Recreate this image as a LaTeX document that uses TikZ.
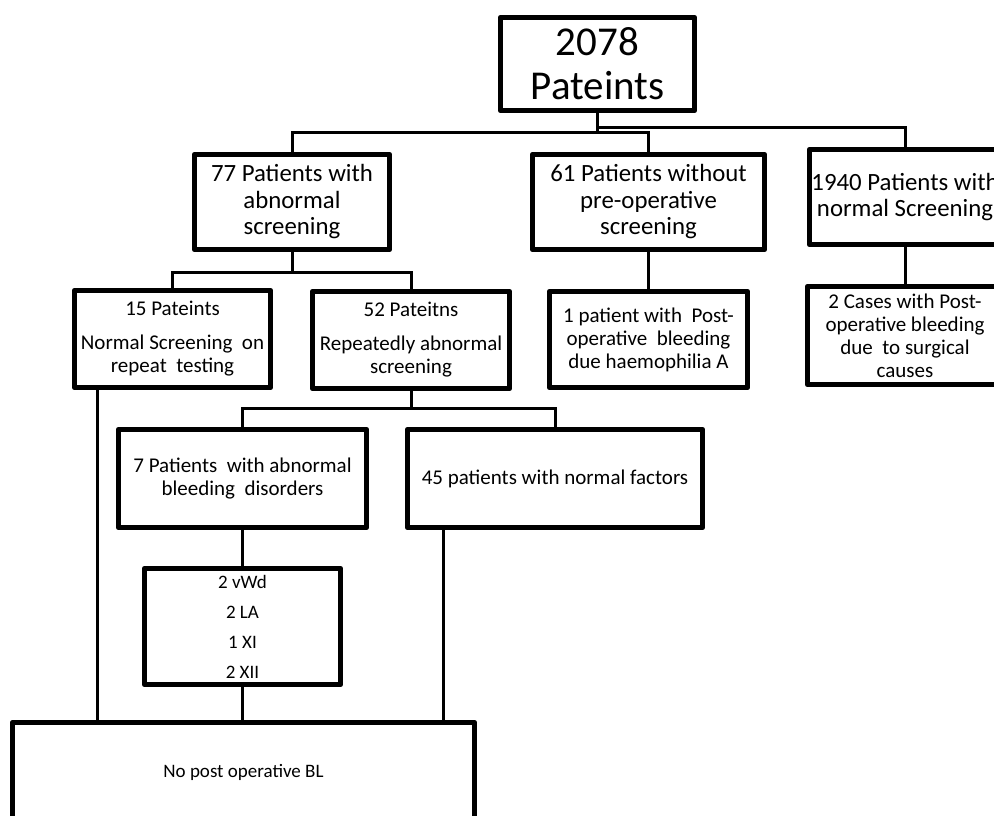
\documentclass[tikz,border=0pt]{standalone}
\usepackage{fontspec}
\setmainfont{Carlito}
\newcommand{\myL}{\fontsize{41}{44}\selectfont}
\newcommand{\myM}{\fontsize{24.8}{26.5}\selectfont}
\newcommand{\myS}{\fontsize{21}{23}\selectfont}
\newcommand{\myT}{\fontsize{19}{30}\selectfont}
\begin{document}
\begin{tikzpicture}[x=1pt,y=-1pt,
  box/.style={draw, line width=5.5pt, rectangle, line join=round, inner sep=0pt, align=center},
  conn/.style={line width=3pt}]
\useasboundingbox (0,0) rectangle (994,816);
\fill[white] (0,0) rectangle (994,816);
\clip (0,0) rectangle (994,816);
% boxes
\node[box, font=\myL, minimum width=194, minimum height=93] (top) at (597.5,64) {2078\\Pateints};
\node[box, font=\myM, minimum width=195, minimum height=95] (n77) at (292,202) {77 Patients with\\abnormal\\screening};
\node[box, font=\myM, minimum width=232, minimum height=95] (n61) at (648.5,202) {61 Patients without\\pre-operative\\screening};
\node[box, font=\myM, minimum width=191, minimum height=95] (n1940) at (905,197) {1940 Patients with\\normal Screening};
\node[box, font=\myS, minimum width=196, minimum height=97] (n15) at (172.5,339) {15 Pateints\\[11pt]Normal Screening~ on\\repeat~ testing};
\node[box, font=\myS, minimum width=197, minimum height=97] (n52) at (411,340) {52 Pateitns\\[11pt]Repeatedly abnormal\\screening};
\node[box, font=\myS, minimum width=198, minimum height=96] (n1p) at (648.5,339.5) {1 patient with~ Post-\\operative~ bleeding\\due haemophilia A};
\node[box, font=\myS, minimum width=195, minimum height=98] (n2c) at (905,335.5) {2 Cases with Post-\\operative bleeding\\due~ to surgical\\causes};
\node[box, font=\myS, minimum width=248, minimum height=98] (n7) at (242.5,478.5) {7 Patients~ with abnormal\\bleeding~ disorders};
\node[box, font=\myS, minimum width=295, minimum height=98] (n45) at (555,478.5) {45 patients with normal factors};
\node[box, font=\myT, minimum width=196, minimum height=116] (nf) at (242.5,626.5) {2 vWd\\2 LA\\1 XI\\2 XII};
\node[box, font=\myT, minimum width=462, minimum height=99] (nb) at (243.5,772) {No post operative BL};
% junctions
\coordinate (ja) at (597.5,132);
\coordinate (jb) at (597.5,127);
\coordinate (jc) at (292,272);
\coordinate (jd) at (411,408);
\coordinate (e15) at (97,0);
\coordinate (e45) at (443,0);
% connectors
\draw[conn] (top.south) -- (ja) -| (n77.north);
\draw[conn] (ja) -| (n61.north);
\draw[conn] (jb) -| (n1940.north);
\draw[conn] (n77.south) -- (jc);
\draw[conn] (jc) -| (n15.north);
\draw[conn] (jc) -| (n52.north);
\draw[conn] (n52.south) -- (jd);
\draw[conn] (jd) -| (n7.north);
\draw[conn] (jd) -| (n45.north);
\draw[conn] (n61.south) -- (n1p.north);
\draw[conn] (n1940.south) -- (n2c.north);
\draw[conn] (n7.south) -- (nf.north);
\draw[conn] (nf.south) -- (nf.south |- nb.north);
\draw[conn] (n15.south -| e15) -- (nb.north -| e15);
\draw[conn] (n45.south -| e45) -- (nb.north -| e45);
\end{tikzpicture}
\end{document}
